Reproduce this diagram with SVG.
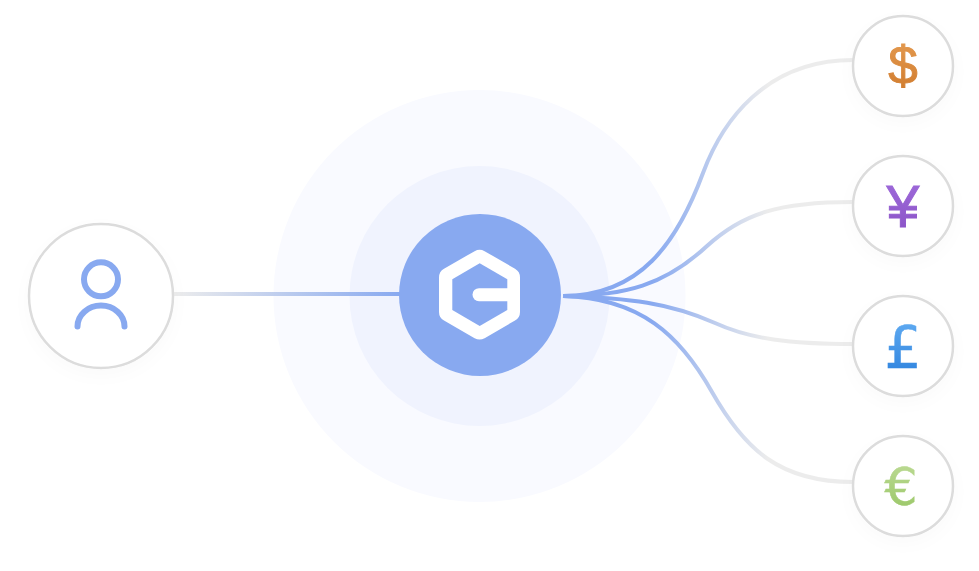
<svg xmlns="http://www.w3.org/2000/svg" width="979" height="571" viewBox="0 0 979 571">
<style>
.conn{fill:none;stroke-width:4}
.node{fill:#fff;stroke:#dcdcdc;stroke-width:2.500;filter:url(#sh)}
.cur{text-anchor:middle;stroke-width:1}
.ls{font-family:"Liberation Sans",Arial,sans-serif}
.dj{font-family:"DejaVu Sans",Verdana,sans-serif;stroke-width:.5}
.ic{fill:none;stroke:#88a9f0;stroke-width:6;stroke-linecap:round}
</style>
<defs>
<filter id="sh" x="-30%" y="-30%" width="160%" height="170%"><feDropShadow dx="0" dy="6" stdDeviation="8" flood-color="#000" flood-opacity="0.018"/></filter>
<linearGradient id="gl" gradientUnits="userSpaceOnUse" x1="175" y1="0" x2="400" y2="0"><stop offset="0" stop-color="#ececec"/><stop offset="1" stop-color="#88a9f0"/></linearGradient>
<linearGradient id="gr" gradientUnits="userSpaceOnUse" x1="652" y1="0" x2="768" y2="0"><stop offset="0" stop-color="#88a9f0"/><stop offset="1" stop-color="#ececec"/></linearGradient>
<linearGradient id="g1" x1="0" y1="0" x2="0" y2="1"><stop offset="0" stop-color="#e59c52"/><stop offset="1" stop-color="#cf7a2c"/></linearGradient>
<linearGradient id="g2" x1="0" y1="0" x2="0" y2="1"><stop offset="0" stop-color="#a06cdc"/><stop offset="1" stop-color="#8850c4"/></linearGradient>
<linearGradient id="g3" x1="0" y1="0" x2="0" y2="1"><stop offset="0" stop-color="#66b0f4"/><stop offset="1" stop-color="#2a7fdc"/></linearGradient>
<linearGradient id="g4" x1="0" y1="0" x2="0" y2="1"><stop offset="0" stop-color="#bfdc98"/><stop offset="1" stop-color="#97c563"/></linearGradient>
</defs>
<rect width="979" height="571" fill="#fff"/>
<circle cx="479.500" cy="296" r="206" fill="#f9faff"/>
<circle cx="479.500" cy="296" r="130" fill="#f0f3fe"/>
<g id="connectors">
<path class="conn" stroke="url(#gl)" d="M173 294H400"/>
<path class="conn" stroke="url(#gr)" d="M563 296C640 296 677 243 703 173C722 122 765 60 853 60"/>
<path class="conn" stroke="url(#gr)" d="M563 296C625 296 665 285 707 246C743 213 780 202 853 202"/>
<path class="conn" stroke="url(#gr)" d="M563 296C630 298 670 303 715 323C750 339 790 344 853 344"/>
<path class="conn" stroke="url(#gr)" d="M563 296C640 298 680 335 712 392C745 450 780 482 853 482"/>
</g>
<g id="hub">
<circle cx="480" cy="295" r="81" fill="#88a9f0"/>
<path d="M479.600 259.800L510 277.400V311.900L479.600 329.500L449 311.900V277.400Z" fill="#fff" stroke="#fff" stroke-width="20" stroke-linejoin="round"/>
<path d="M479.700 263.300L507.300 279.300V310L479.700 326L452.300 310V279.300Z" fill="#88a9f0"/>
<path d="M479 294.700H510" fill="none" stroke="#fff" stroke-width="13" stroke-linecap="round"/>
</g>
<g id="user">
<circle class="node" cx="101" cy="296" r="72"/>
<circle class="ic" cx="101" cy="279.300" r="17"/>
<path class="ic" d="M77.500 326.500A23.500 21 0 0 1 124.500 326.500"/>
</g>
<g id="dollar">
<circle class="node" cx="903" cy="66" r="50"/>
<text class="cur ls" font-size="53" x="903" y="84" fill="url(#g1)" stroke="url(#g1)">$</text>
</g>
<g id="yen">
<circle class="node" cx="903" cy="206" r="50"/>
<text class="cur ls" font-size="59" x="903" y="227" fill="url(#g2)" stroke="url(#g2)">¥</text>
</g>
<g id="pound">
<circle class="node" cx="903" cy="346" r="50"/>
<text class="cur dj" font-size="59" x="903" y="367.500" fill="url(#g3)" stroke="url(#g3)">£</text>
</g>
<g id="euro">
<circle class="node" cx="903" cy="486" r="50"/>
<text class="cur dj" font-size="52" x="901" y="505" fill="url(#g4)" stroke="url(#g4)">€</text>
</g>
</svg>
